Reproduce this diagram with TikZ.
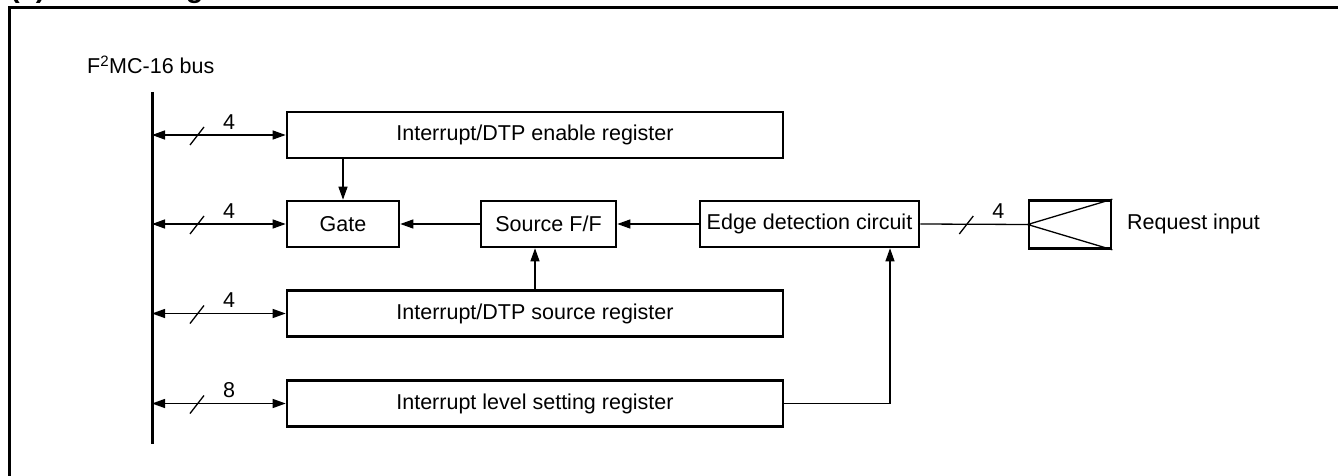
\documentclass[tikz,border=0pt]{standalone}
\usepackage{fontspec}
\setmainfont{Liberation Sans}
\usetikzlibrary{arrows.meta}
\begin{document}
\begin{tikzpicture}[x=1pt,y=-1pt,
  txt/.style={font=\fontsize{21.5}{25}\selectfont},
  box/.style={draw, line width=2.6pt, inner sep=0pt, txt},
  conn/.style={line width=1.3pt},
  arr/.style={conn, -{Triangle[length=13pt,width=9pt]}},
  darr/.style={conn, {Triangle[length=13pt,width=9pt]}-{Triangle[length=13pt,width=9pt]}},
  lbl/.style={txt, inner sep=0pt}]
\useasboundingbox (0,0) rectangle (1338,476);
% frame and clipped title
\draw[line width=3pt] (9,490) -- (9,8) -- (1350,8);
\node[anchor=base west, inner sep=0pt, font=\bfseries\fontsize{29}{33}\selectfont] (title) at (10,-2) {(1) Block Diagram};
% bus
\node[anchor=base west, inner sep=0pt, txt] (buslbl) at (87,74) {F\textsuperscript{2}MC-16 bus};
\coordinate (bt) at (152,92);
\coordinate (bb) at (152,444);
\draw[line width=3pt] (bt) -- (bb);
% blocks
\node[box, minimum width=496pt, minimum height=46pt] (en) at (535,135) {Interrupt/DTP enable register};
\node[box, minimum width=112pt, minimum height=46pt] (gate) at (343,224) {Gate};
\node[box, minimum width=135pt, minimum height=46pt] (sff) at (548.5,224) {Source F/F};
\node[box, minimum width=219pt, minimum height=46pt] (edge) at (809.5,224) {Edge detection circuit};
\node[box, minimum width=82pt, minimum height=48pt] (req) at (1070,224.5) {};
\node[anchor=west, inner sep=0pt, txt] (reqlbl) at (1127,224) {Request input};
\node[box, minimum width=496pt, minimum height=46pt] (sreg) at (535,313.5) {Interrupt/DTP source register};
\node[box, minimum width=496pt, minimum height=46pt] (lreg) at (535,403.5) {Interrupt level setting register};
% request input symbol
\draw[conn] (req.north east) -- (req.west) -- (req.south east);
% bus links
\foreach \n/\w in {en/4, gate/4, sreg/4, lreg/8}{
  \draw[darr] (\n.west -| bt) -- (\n.west);
  \draw[conn] ([shift={(38,10)}]\n.west -| bt) -- ++(14,-18);
  \node[lbl] at ([shift={(77,-13)}]\n.west -| bt) {\w};
}
% internal connections
\draw[arr] (en.south -| gate.north) -- (gate.north);
\draw[arr] (sff.west) -- (gate.east);
\draw[arr] (edge.west) -- (sff.east);
\draw[arr] (sreg.north) -- (sreg.north |- sff.south);
\coordinate (ek) at (890,0);
\draw[arr] (lreg.east) -| (ek |- edge.south);
\draw[conn] (edge.east) -- (req.west);
\draw[conn] ([shift={(39,10)}]edge.east) -- ++(14,-18);
\node[lbl] at ([shift={(78,-13)}]edge.east) {4};
\end{tikzpicture}
\end{document}
